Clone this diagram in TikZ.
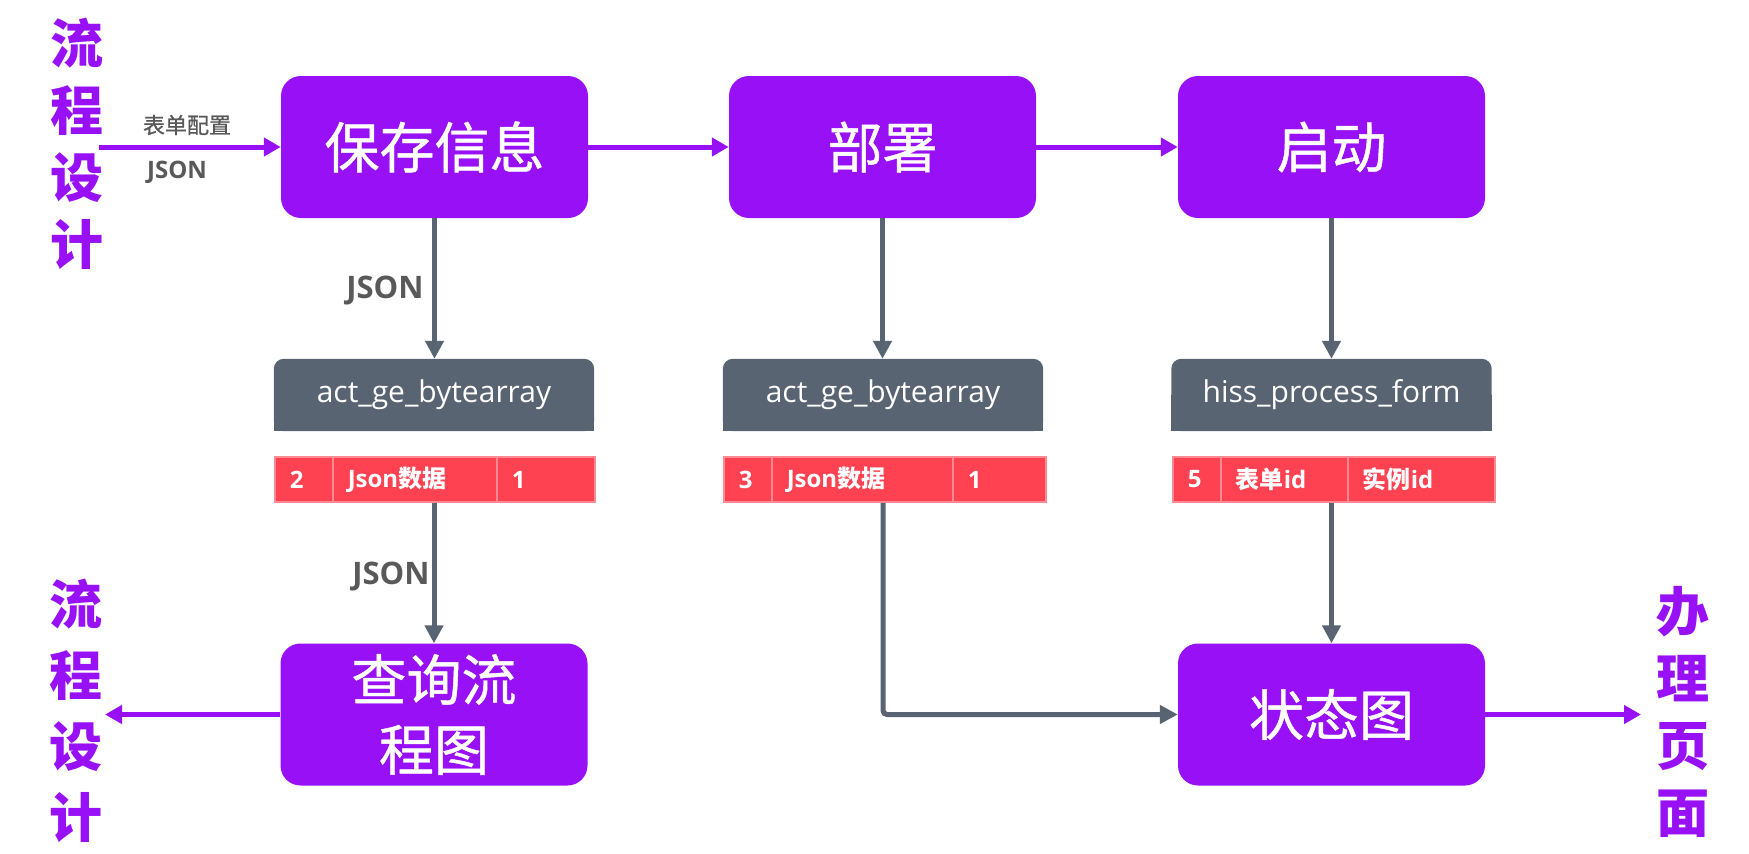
\documentclass[tikz,border=0pt]{standalone}
\usepackage{fontspec}
\setmainfont{Open Sans}
\newfontfamily\cjk{Noto Sans CJK SC}
\newfontfamily\cjkm[FakeBold=0.8]{Noto Sans CJK SC}
\usetikzlibrary{arrows.meta,backgrounds}
\definecolor{purp}{HTML}{9810F5}
\definecolor{hgray}{HTML}{596472}
\definecolor{rowred}{HTML}{FF4252}
\definecolor{rowline}{HTML}{FF8A93}
\definecolor{lblgray}{HTML}{595959}
\begin{document}
\begin{tikzpicture}[x=1pt,y=-1pt,
  pbox/.style={rectangle, rounded corners=20pt, fill=purp, minimum width=307pt, minimum height=142pt, inner sep=0pt, text=white, align=center, font=\cjkm\fontsize{55}{70}\selectfont},
  hdr/.style={rectangle, minimum width=320pt, minimum height=72pt, inner sep=0pt, text=white, font=\fontsize{30}{34}\selectfont},
  cell/.style={rectangle, fill=rowred, draw=rowline, line width=1.5pt, minimum height=45pt, inner xsep=15pt, inner ysep=0pt, align=left, text=white, font=\bfseries\fontsize{24}{28}\selectfont, anchor=west},
  parrow/.style={draw=purp, line width=5pt, -{Triangle[length=17pt,width=18pt]}},
  garrow/.style={draw=hgray, line width=5pt, -{Triangle[length=18pt,width=18pt]}},
  side/.style={text=purp, font=\cjk\bfseries\fontsize{53}{67}\selectfont, align=center, inner sep=0pt},
  lbl/.style={text=lblgray, inner sep=0pt}]
\useasboundingbox (0,0) rectangle (1749,854);

% main purple boxes
\node[pbox] (b1) at (434.5,147) {保存信息};
\node[pbox] (b2) at (882.5,147) {部署};
\node[pbox] (b3) at (1331.5,147) {启动};
\node[pbox] (b4) at (434,714.5) {查询流\\程图};
\node[pbox] (b6) at (1331.5,714.5) {状态图};

% table headers
\node[hdr] (h1) at (434,395) {act\_ge\_bytearray};
\node[hdr] (h2) at (883,395) {act\_ge\_bytearray};
\node[hdr] (h3) at (1331.5,395) {hiss\_process\_form};
\begin{scope}[on background layer]
\foreach \h in {h1,h2,h3} {
  \fill[hgray, rounded corners=10pt] (\h.south west) rectangle (\h.north east);
  \fill[hgray] (\h.south west) rectangle (\h.east);
}
\end{scope}

% table rows
\node[cell, text width=28pt] (r1a) at (274,479.5) {2};
\node[cell, text width=134pt] (r1b) at (332,479.5) {Json{\cjk 数据}};
\node[cell, text width=68pt] (r1c) at (496,479.5) {1};
\node[cell, text width=18pt] (r2a) at (723,479.5) {3};
\node[cell, text width=151pt] (r2b) at (771,479.5) {Json{\cjk 数据}};
\node[cell, text width=63pt] (r2c) at (952,479.5) {1};
\node[cell, text width=18pt] (r3a) at (1172,479.5) {5};
\node[cell, text width=97pt] (r3b) at (1220,479.5) {{\cjk 表单}id};
\node[cell, text width=117pt] (r3c) at (1347,479.5) {{\cjk 实例}id};

% side labels
\node[side] (sl1) at (77,144) {流\\程\\设\\计};
\node[side, font=\cjk\bfseries\fontsize{53}{71}\selectfont] (sl2) at (76,711) {流\\程\\设\\计};
\node[side] (sr) at (1683,712) {办\\理\\页\\面};

% connector labels
\node[lbl, font=\cjkm\fontsize{22}{26}\selectfont] (l1) at (187,125) {表单配置};
\node[lbl, font=\bfseries\fontsize{24}{28}\selectfont] (l2) at (177,172) {JSON};
\node[lbl, font=\bfseries\fontsize{31}{36}\selectfont] (l3) at (385,291) {JSON};
\node[lbl, font=\bfseries\fontsize{31}{36}\selectfont] (l4) at (391,577) {JSON};

% free ends
\coordinate (ps) at (99,147);
\coordinate (pd) at (105,714.5);
\coordinate (pe) at (1641,714.5);

% connectors
\draw[parrow] (ps) -- (b1.west);
\draw[parrow] (b1.east) -- (b2.west);
\draw[parrow] (b2.east) -- (b3.west);
\draw[garrow] (b1.south) -- (b1.south |- h1.north);
\draw[garrow] (b2.south) -- (b2.south |- h2.north);
\draw[garrow] (b3.south) -- (b3.south |- h3.north);
\draw[garrow] (h1.center |- r1b.south) -- (h1.center |- b4.north);
\draw[garrow, rounded corners=4pt] (h2.center |- r2b.south) |- (b6.west);
\draw[garrow] (h3.center |- r3b.south) -- (h3.center |- b6.north);
\draw[parrow] (b4.west) -- (pd);
\draw[parrow] (b6.east) -- (pe);
\end{tikzpicture}
\end{document}
